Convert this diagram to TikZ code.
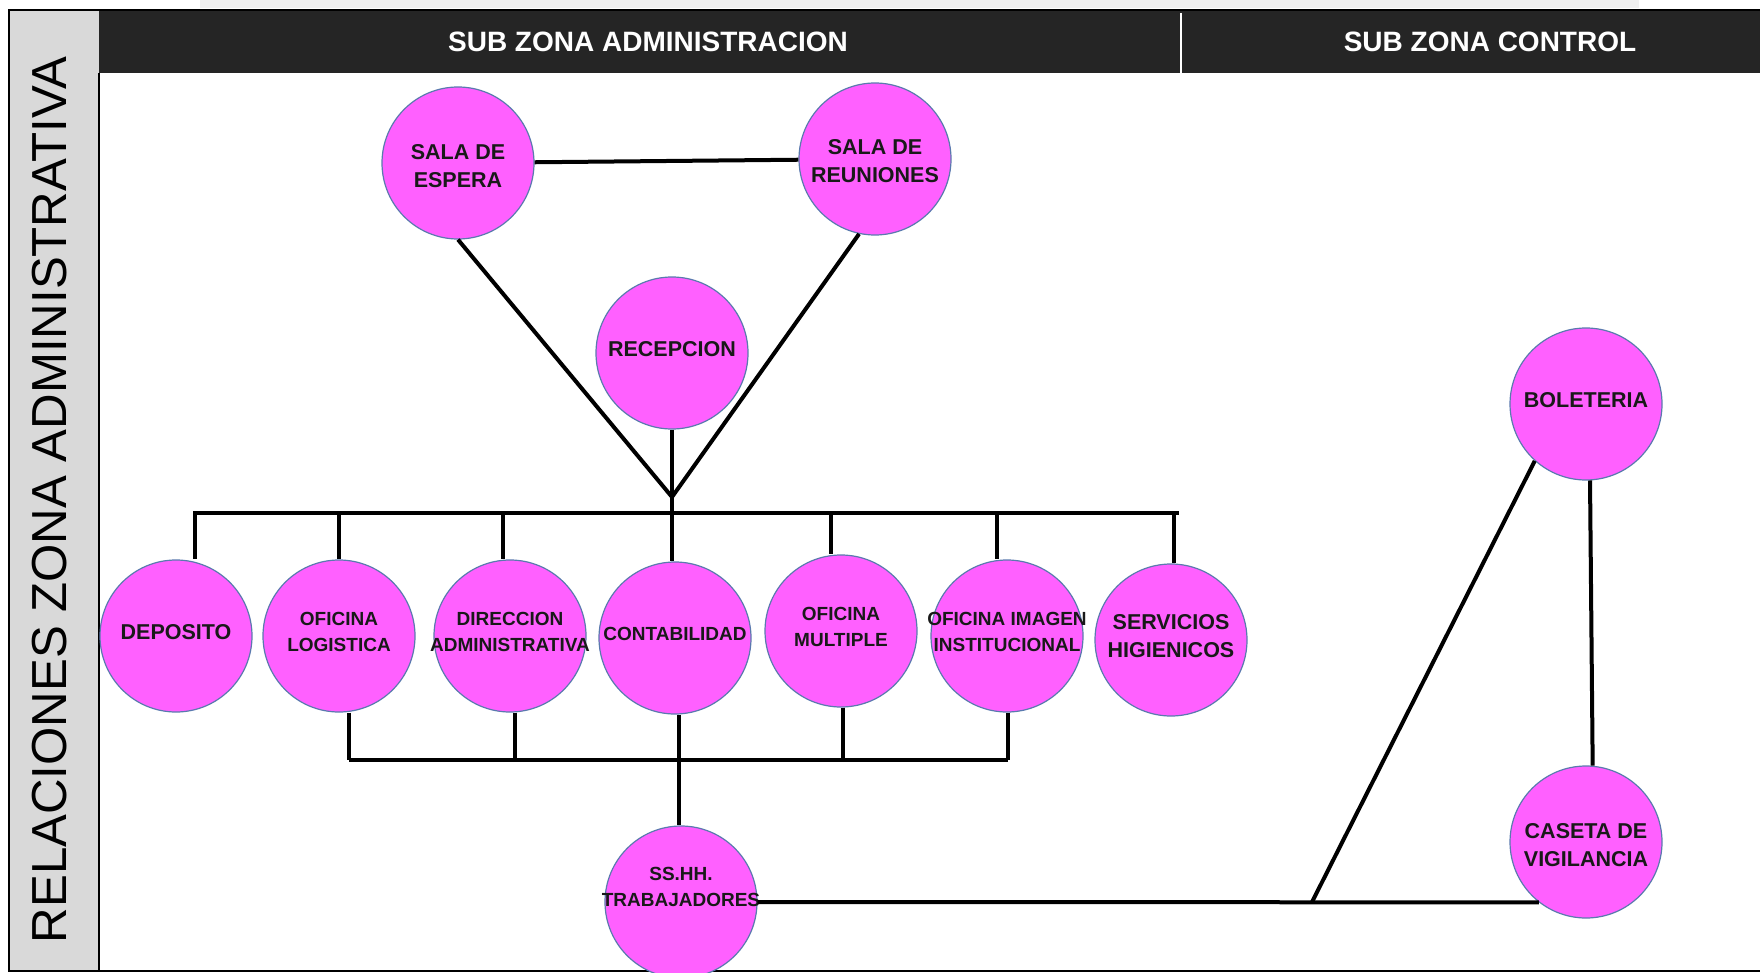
\documentclass[tikz,border=0pt]{standalone}
\usepackage{fontspec}
\setmainfont{Liberation Sans}
\usepackage{tikz}
\definecolor{roomfill}{HTML}{FF60FF}
\definecolor{roomrim}{HTML}{5A7AAE}
\definecolor{headbar}{HTML}{252525}
\definecolor{sidebar}{HTML}{D9D9D9}
\definecolor{topband}{HTML}{F0F0F0}

\begin{document}
\begin{tikzpicture}[x=0.5pt,y=-0.5pt,
  room/.style={circle,draw=roomrim,line width=0.6pt,fill=roomfill,minimum size=76pt,inner sep=0pt},
  rtxt/.style={align=center,text=black!90,inner sep=0pt,yshift=2pt},
  bigtxt/.style={font=\fontsize{10.75}{14}\selectfont\bfseries},
  smalltxt/.style={font=\fontsize{9.5}{13}\selectfont\bfseries},
  link/.style={line width=2pt,black},
  headtxt/.style={text=white,anchor=base,font=\fontsize{14}{16}\selectfont\bfseries}]
\useasboundingbox (0,0) rectangle (1760,973);
% frame: side column and header bar
\fill[topband] (200,0) rectangle (1639,8);
\fill[sidebar] (9,10) rectangle (99,971);
\fill[headbar] (99,10) rectangle (1760,73);
\draw[line width=1pt] (1760,10) -- (9,10) -- (9,971) -- (1760,971);
\draw[line width=1pt] (99,73) -- (99,971);
\draw[white,line width=1pt] (1181,13) -- (1181,73);
\node[headtxt] (hadmin) at (648,52) {SUB ZONA ADMINISTRACION};
\node[headtxt] (hcontrol) at (1490,52) {SUB ZONA CONTROL};
\node[rotate=90,anchor=base,font=\fontsize{24.6}{28}\selectfont] (side) at (66,500) {RELACIONES ZONA ADMINISTRATIVA};
% top group
\node[room] (espera) at (458,163) {};
\node[rtxt,bigtxt,yshift=-3.5pt] (espera-t) at (espera) {SALA DE\\ESPERA};
\node[room] (reuniones) at (875,159) {};
\node[rtxt,bigtxt,yshift=-3pt] (reuniones-t) at (reuniones) {SALA DE\\REUNIONES};
\node[room] (recepcion) at (672,353) {};
\node[rtxt,bigtxt] (recepcion-t) at (recepcion) {RECEPCION};
% row of offices
\foreach \n/\x/\y/\f/\t in {deposito/176/636/bigtxt/DEPOSITO, logistica/339/636/smalltxt/{OFICINA\\LOGISTICA},
    direccion/510/636/smalltxt/{DIRECCION\\ADMINISTRATIVA}, contab/675/638/smalltxt/CONTABILIDAD,
    multiple/841/631/smalltxt/{OFICINA\\MULTIPLE}, imagen/1007/636/smalltxt/{OFICINA IMAGEN\\INSTITUCIONAL},
    servicios/1171/640/bigtxt/{SERVICIOS\\HIGIENICOS}}{
  \node[room] (\n) at (\x,\y) {};
  \node[rtxt,\f] (\n-t) at (\n) {\t};}
\node[room] (sshh) at (681,902) {};
\node[rtxt,smalltxt,yshift=5.5pt] (sshh-t) at (sshh) {SS.HH.\\TRABAJADORES};
% control zone
\node[room] (boleteria) at (1586,404) {};
\node[rtxt,bigtxt] (boleteria-t) at (boleteria) {BOLETERIA};
\node[room] (caseta) at (1586,842) {};
\node[rtxt,bigtxt,yshift=-3.5pt] (caseta-t) at (caseta) {CASETA DE\\VIGILANCIA};
% links of the top group
\coordinate (jn) at (672,497);
\coordinate (busl) at (193,513);
\coordinate (busr) at (1179,513);
\draw[link] (espera) -- (reuniones);
\draw[link] (espera.south) -- (jn) -- (reuniones.-102);
\draw[link] (recepcion.south) -- (jn) -- (jn |- busl);
\draw[link] (busl) -- (busr);
\foreach \n/\x in {deposito/195, logistica/339, direccion/503, contab/672, multiple/831, imagen/997, servicios/1174}{
  \coordinate (top-\n) at (\x,513);
  \draw[link] (top-\n) -- (top-\n |- \n.north);}
% lower bus to the staff toilets
\foreach \n/\x in {logistica/349, direccion/515, contab/679, multiple/843, imagen/1008}{
  \coordinate (bot-\n) at (\x,760);
  \draw[link] (bot-\n |- \n.south) -- (bot-\n);}
\draw[link] (bot-logistica) -- (bot-imagen);
\draw[link] (bot-contab) -- (bot-contab |- sshh.north);
% links to the control zone
\coordinate (bj) at (1312,902);
\draw[link] (sshh.east) -- (caseta.-128);
\draw[link] (bj) -- (boleteria.-132);
\draw[link] (boleteria.-87) -- (caseta.85);
\end{tikzpicture}
\end{document}
